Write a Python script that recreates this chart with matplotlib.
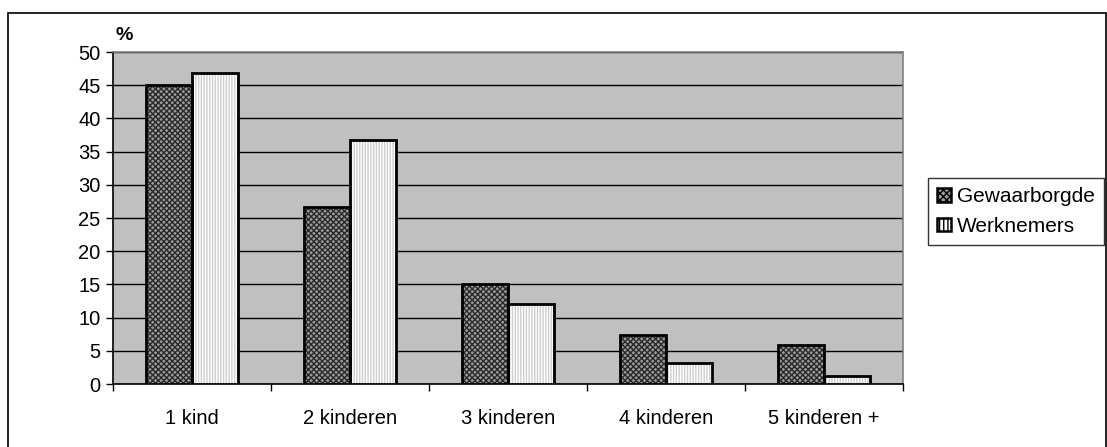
import matplotlib.pyplot as plt
from matplotlib.patches import Rectangle
import numpy as np

plt.rcParams['font.family'] = ['Liberation Sans', 'DejaVu Sans']

categories = ["1 kind", "2 kinderen", "3 kinderen", "4 kinderen", "5 kinderen +"]
gewaarborgde = [45.0, 26.7, 15.0, 7.4, 5.8]
werknemers = [46.8, 36.7, 12.1, 3.1, 1.2]
series_names = ["Gewaarborgde", "Werknemers"]

W, H = 1107, 447
fig = plt.figure(figsize=(W / 100, H / 100), dpi=100)

# plot area in pixels: left 113, right 903, top 52, bottom 384
ax = fig.add_axes([113 / W, 1 - 384 / H, (903 - 113) / W, (384 - 52) / H])
ax.set_facecolor("#c0c0c0")

x = np.arange(len(categories))
bw = 0.29

# hatched fill first, then black outline on top
ax.bar(x - bw / 2, gewaarborgde, bw, color="#9a9a9a", edgecolor="#2a2a2a",
       hatch="xxxxxx", linewidth=0, zorder=3)
ax.bar(x + bw / 2, werknemers, bw, color="white", edgecolor="#cfcfcf",
       hatch="||||||", linewidth=0, zorder=3)
ax.bar(x - bw / 2, gewaarborgde, bw, fill=False, edgecolor="black", linewidth=2, zorder=4)
ax.bar(x + bw / 2, werknemers, bw, fill=False, edgecolor="black", linewidth=2, zorder=4)

ax.set_xlim(-0.5, len(categories) - 0.5)
ax.set_ylim(0, 50)
ax.set_yticks(range(0, 51, 5))
ax.yaxis.grid(True, color="black", linewidth=1)
ax.set_axisbelow(True)

ax.set_xticks(x)
ax.set_xticklabels(categories)
ax.set_xticks(np.arange(-0.5, len(categories), 1), minor=True)
ax.tick_params(axis="x", which="major", length=0, pad=18, labelsize=14.5)
ax.tick_params(axis="x", which="minor", length=5, width=1, direction="out")
ax.tick_params(axis="y", length=5, width=1, direction="out", pad=4, labelsize=14.5)

for s in ["left", "bottom"]:
    ax.spines[s].set_color("black")
    ax.spines[s].set_linewidth(1.2)
for s in ["top", "right"]:
    ax.spines[s].set_color("#808080")
    ax.spines[s].set_linewidth(1.2)

fig.text(115 / W, 1 - 36 / H, "%", fontsize=14, fontweight="bold", va="center", ha="left")

# legend
handles = [
    Rectangle((0, 0), 1, 1, facecolor="#9a9a9a", edgecolor="black", hatch="xxxxx", linewidth=1.8),
    Rectangle((0, 0), 1, 1, facecolor="white", edgecolor="black", hatch="||||", linewidth=1.8),
]
leg = fig.legend(handles, series_names, loc="upper left",
                 bbox_to_anchor=(928 / W, 1 - 178 / H), fontsize=15,
                 frameon=True, fancybox=False, handlelength=0.65, handleheight=0.65,
                 handletextpad=0.3, borderpad=0.45, labelspacing=0.5, borderaxespad=0)
leg.get_frame().set_edgecolor("black")
leg.get_frame().set_linewidth(1)

# outer chart frame
fig.patches.append(Rectangle((8 / W, -0.05), (1106 - 8) / W, 1.05 - 13 / H,
                             transform=fig.transFigure, fill=False,
                             edgecolor="black", linewidth=1.2))

fig.savefig("out.png", dpi=100)
